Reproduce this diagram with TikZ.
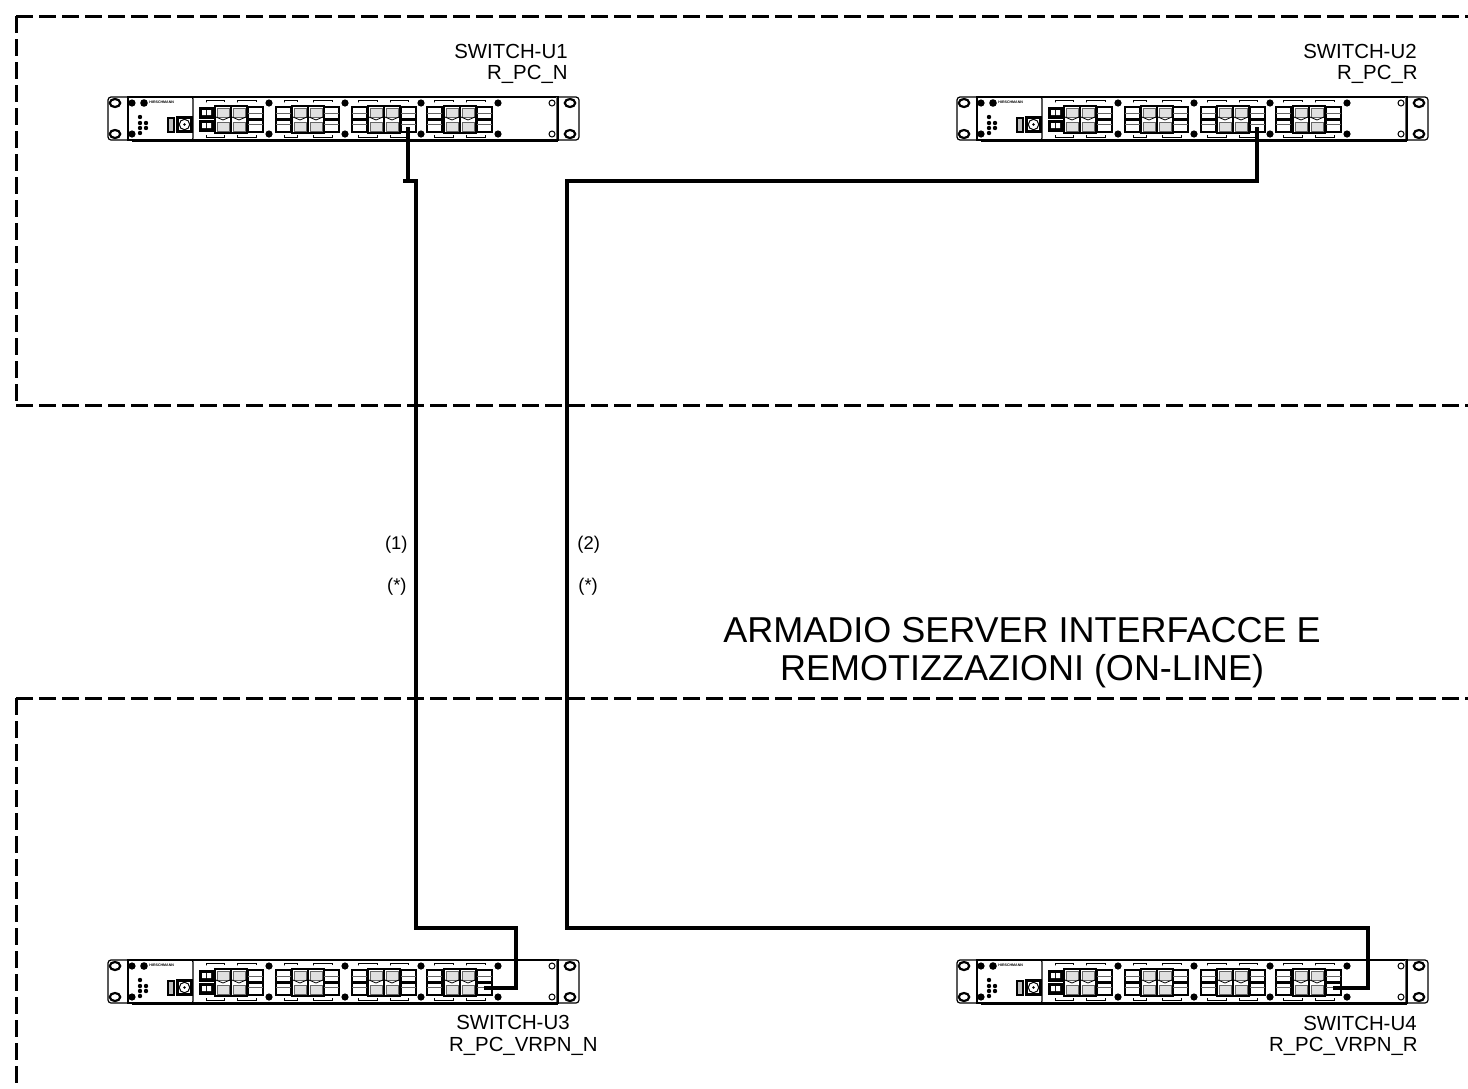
\documentclass[tikz,border=0pt]{standalone}
\usepackage{fontspec}
\setmainfont{Liberation Sans}

\newcommand{\sfppair}[1]{
  \draw[portline] (#1,10) rectangle ++(15,12);
  \draw[portline] (#1,23) rectangle ++(15,12);
  \draw[innerline] (#1,16) -- ++(15,0) (#1,27) -- ++(15,0);
}
\newcommand{\gangpair}[1]{
  \draw[portline] (#1,9) rectangle ++(32,27);
  \draw[portline] ({#1+16},9) -- ++(0,27);
  \foreach \cellx in {1,17} {
    \draw[innerline, fill=black!12] ({#1+\cellx+1},11) rectangle ++(12,9);
    \draw[innerline, fill=black!12] ({#1+\cellx+1},25) rectangle ++(12,9);
    \draw[line width=0.4pt] ({#1+\cellx},20) -- ++(7,3) -- ++(7,-3);
  }
}
\newcommand{\bracketpair}[2]{
  \draw[bracketline] (#1,5) -- (#1,3) -- (#2,3) -- (#2,5);
  \draw[bracketline] (#1,38) -- (#1,40) -- (#2,40) -- (#2,38);
}

\tikzset{
  frameline/.style={line width=1.5pt, dash pattern=on 8.5pt off 3pt},
  cable/.style={line width=1.6pt, line join=miter},
  panelline/.style={line width=0.6pt},
  portline/.style={line width=1.1pt},
  innerline/.style={line width=0.25pt, black!60},
  bracketline/.style={line width=0.5pt},
  smalltext/.style={inner sep=0pt, font=\fontsize{9.2}{11}\selectfont},
  switchtext/.style={inner sep=0pt, font=\fontsize{10.2}{12}\selectfont},
  titletext/.style={inner sep=0pt, align=center, font=\fontsize{18}{19}\selectfont},
  pics/switchunit/.style={code={
    \draw[panelline, rounded corners=1.5pt] (20,0) -- (0,0) -- (0,43) -- (20,43);
    \draw[panelline, rounded corners=1.5pt] (450,0) -- (471,0) -- (471,43) -- (450,43);
    \draw[panelline] (20,0) rectangle (450,43);
    \draw[panelline, rounded corners=1pt] (20,0) rectangle (85,43);
    \draw[line width=0.3pt, black!60] (448,0) -- (448,43);
    \draw[line width=1.1pt] (24,43.5) -- (450,43.5);
    % ear holes
    \foreach \hx in {7,462} \foreach \hy in {6,37}
      \draw[line width=1.1pt, fill=white] (\hx,\hy) ellipse (2.6pt and 2pt);
    \foreach \hy in {6,37}
      \draw[line width=0.5pt] (444,\hy) circle (1.5pt);
    % screws
    \foreach \sx in {161,237,313,390} \foreach \sy in {6,37}
      \fill (\sx,\sy) circle (1.8pt);
    \fill (24,6) circle (1.8pt) (24,37) circle (1.8pt) (36,6) circle (1.9pt);
    \node[inner sep=0pt, anchor=west, font=\fontsize{1.8}{2}\bfseries\selectfont] (-brand) at (41,5) {HIRSCHMANN};
    % leds
    \foreach \lx/\ly in {32/20,32/26,38/26,32/31,38/31,32/36}
      \fill (\lx,\ly) circle (1.1pt);
    \draw[line width=0.7pt, fill=black!25] (60,21) rectangle (66,35);
    \draw[line width=1.3pt] (69.5,20.5) rectangle (83.5,34.5);
    \draw[line width=0.5pt, fill=white] (76.5,27.5) circle (2.6pt);
    \fill (76.5,27.5) circle (0.7pt);
    % power block
    \foreach \py in {10,23} {
      \fill (91,\py) rectangle ++(15,12);
      \fill[white] (94,{\py+3}) rectangle ++(4,5) (99,{\py+3}) rectangle ++(4,5);
    }
    % port groups
    \foreach \gx in {107,184,260,336} \gangpair{\gx}
    \foreach \sx in {140,168,216,244,293,319,369} \sfppair{\sx}
    \bracketpair{98}{116} \bracketpair{129}{148}
    \bracketpair{176}{189} \bracketpair{205}{224}
    \bracketpair{250}{269} \bracketpair{282}{300}
    \bracketpair{326}{345} \bracketpair{358}{377}
    \coordinate (-c3) at (300,30);
    \coordinate (-c4) at (376,28);
  }}
}

\begin{document}
\begin{tikzpicture}[x=0.5pt, y=-0.5pt]
  \useasboundingbox (0,0) rectangle (1468,1088);

  \pic (u1) at (108,97) {switchunit};
  \pic (u2) at (957,97) {switchunit};
  \pic (u3) at (108,960) {switchunit};
  \pic (u4) at (957,960) {switchunit};

  \node[switchtext, anchor=base east] (u1a) at (568,58) {SWITCH-U1};
  \node[switchtext, anchor=base east] (u1b) at (568,79) {R\_PC\_N};
  \node[switchtext, anchor=base east] (u2a) at (1417,58) {SWITCH-U2};
  \node[switchtext, anchor=base east] (u2b) at (1418,79) {R\_PC\_R};
  \node[switchtext, anchor=base east] (u3a) at (570,1029) {SWITCH-U3};
  \node[switchtext, anchor=base east] (u3b) at (598,1051) {R\_PC\_VRPN\_N};
  \node[switchtext, anchor=base east] (u4a) at (1417,1030) {SWITCH-U4};
  \node[switchtext, anchor=base east] (u4b) at (1418,1051) {R\_PC\_VRPN\_R};

  \node[smalltext, anchor=base east] (n1) at (408,549) {(1)};
  \node[smalltext, anchor=base east] (s1) at (407,591) {(*)};
  \node[smalltext, anchor=base west] (n2) at (577,549) {(2)};
  \node[smalltext, anchor=base west] (s2) at (578,591) {(*)};

  \node[titletext, anchor=base] (title) at (1022,680) {ARMADIO SERVER INTERFACCE E\\REMOTIZZAZIONI (ON-LINE)};

  % cabinet frames
  \coordinate (fa) at (16,16);
  \coordinate (fb) at (1468,16);
  \coordinate (fc) at (16,405);
  \coordinate (fd) at (1468,405);
  \coordinate (fe) at (16,698);
  \coordinate (ff) at (1468,698);
  \coordinate (fg) at (16,1088);
  \draw[frameline] (fa) -- (fb);
  \draw[frameline] (fa) -- (fc);
  \draw[frameline] (fc) -- (fd);
  \draw[frameline] (fe) -- (ff);
  \draw[frameline] (fe) -- (fg);

  % cables
  \coordinate (k1) at (403,181);
  \coordinate (k2) at (416,181);
  \coordinate (k3) at (416,928);
  \coordinate (k4) at (516,988);
  \draw[cable] (u1-c3) |- (k1);
  \draw[cable] (k1) -- (k2) -- (k3) -| (k4) -- (u3-c4);

  \coordinate (m1) at (567,181);
  \coordinate (m2) at (567,928);
  \coordinate (m3) at (1368,988);
  \draw[cable] (u2-c3) |- (m1) -- (m2) -| (m3) -- (u4-c4);
\end{tikzpicture}
\end{document}
